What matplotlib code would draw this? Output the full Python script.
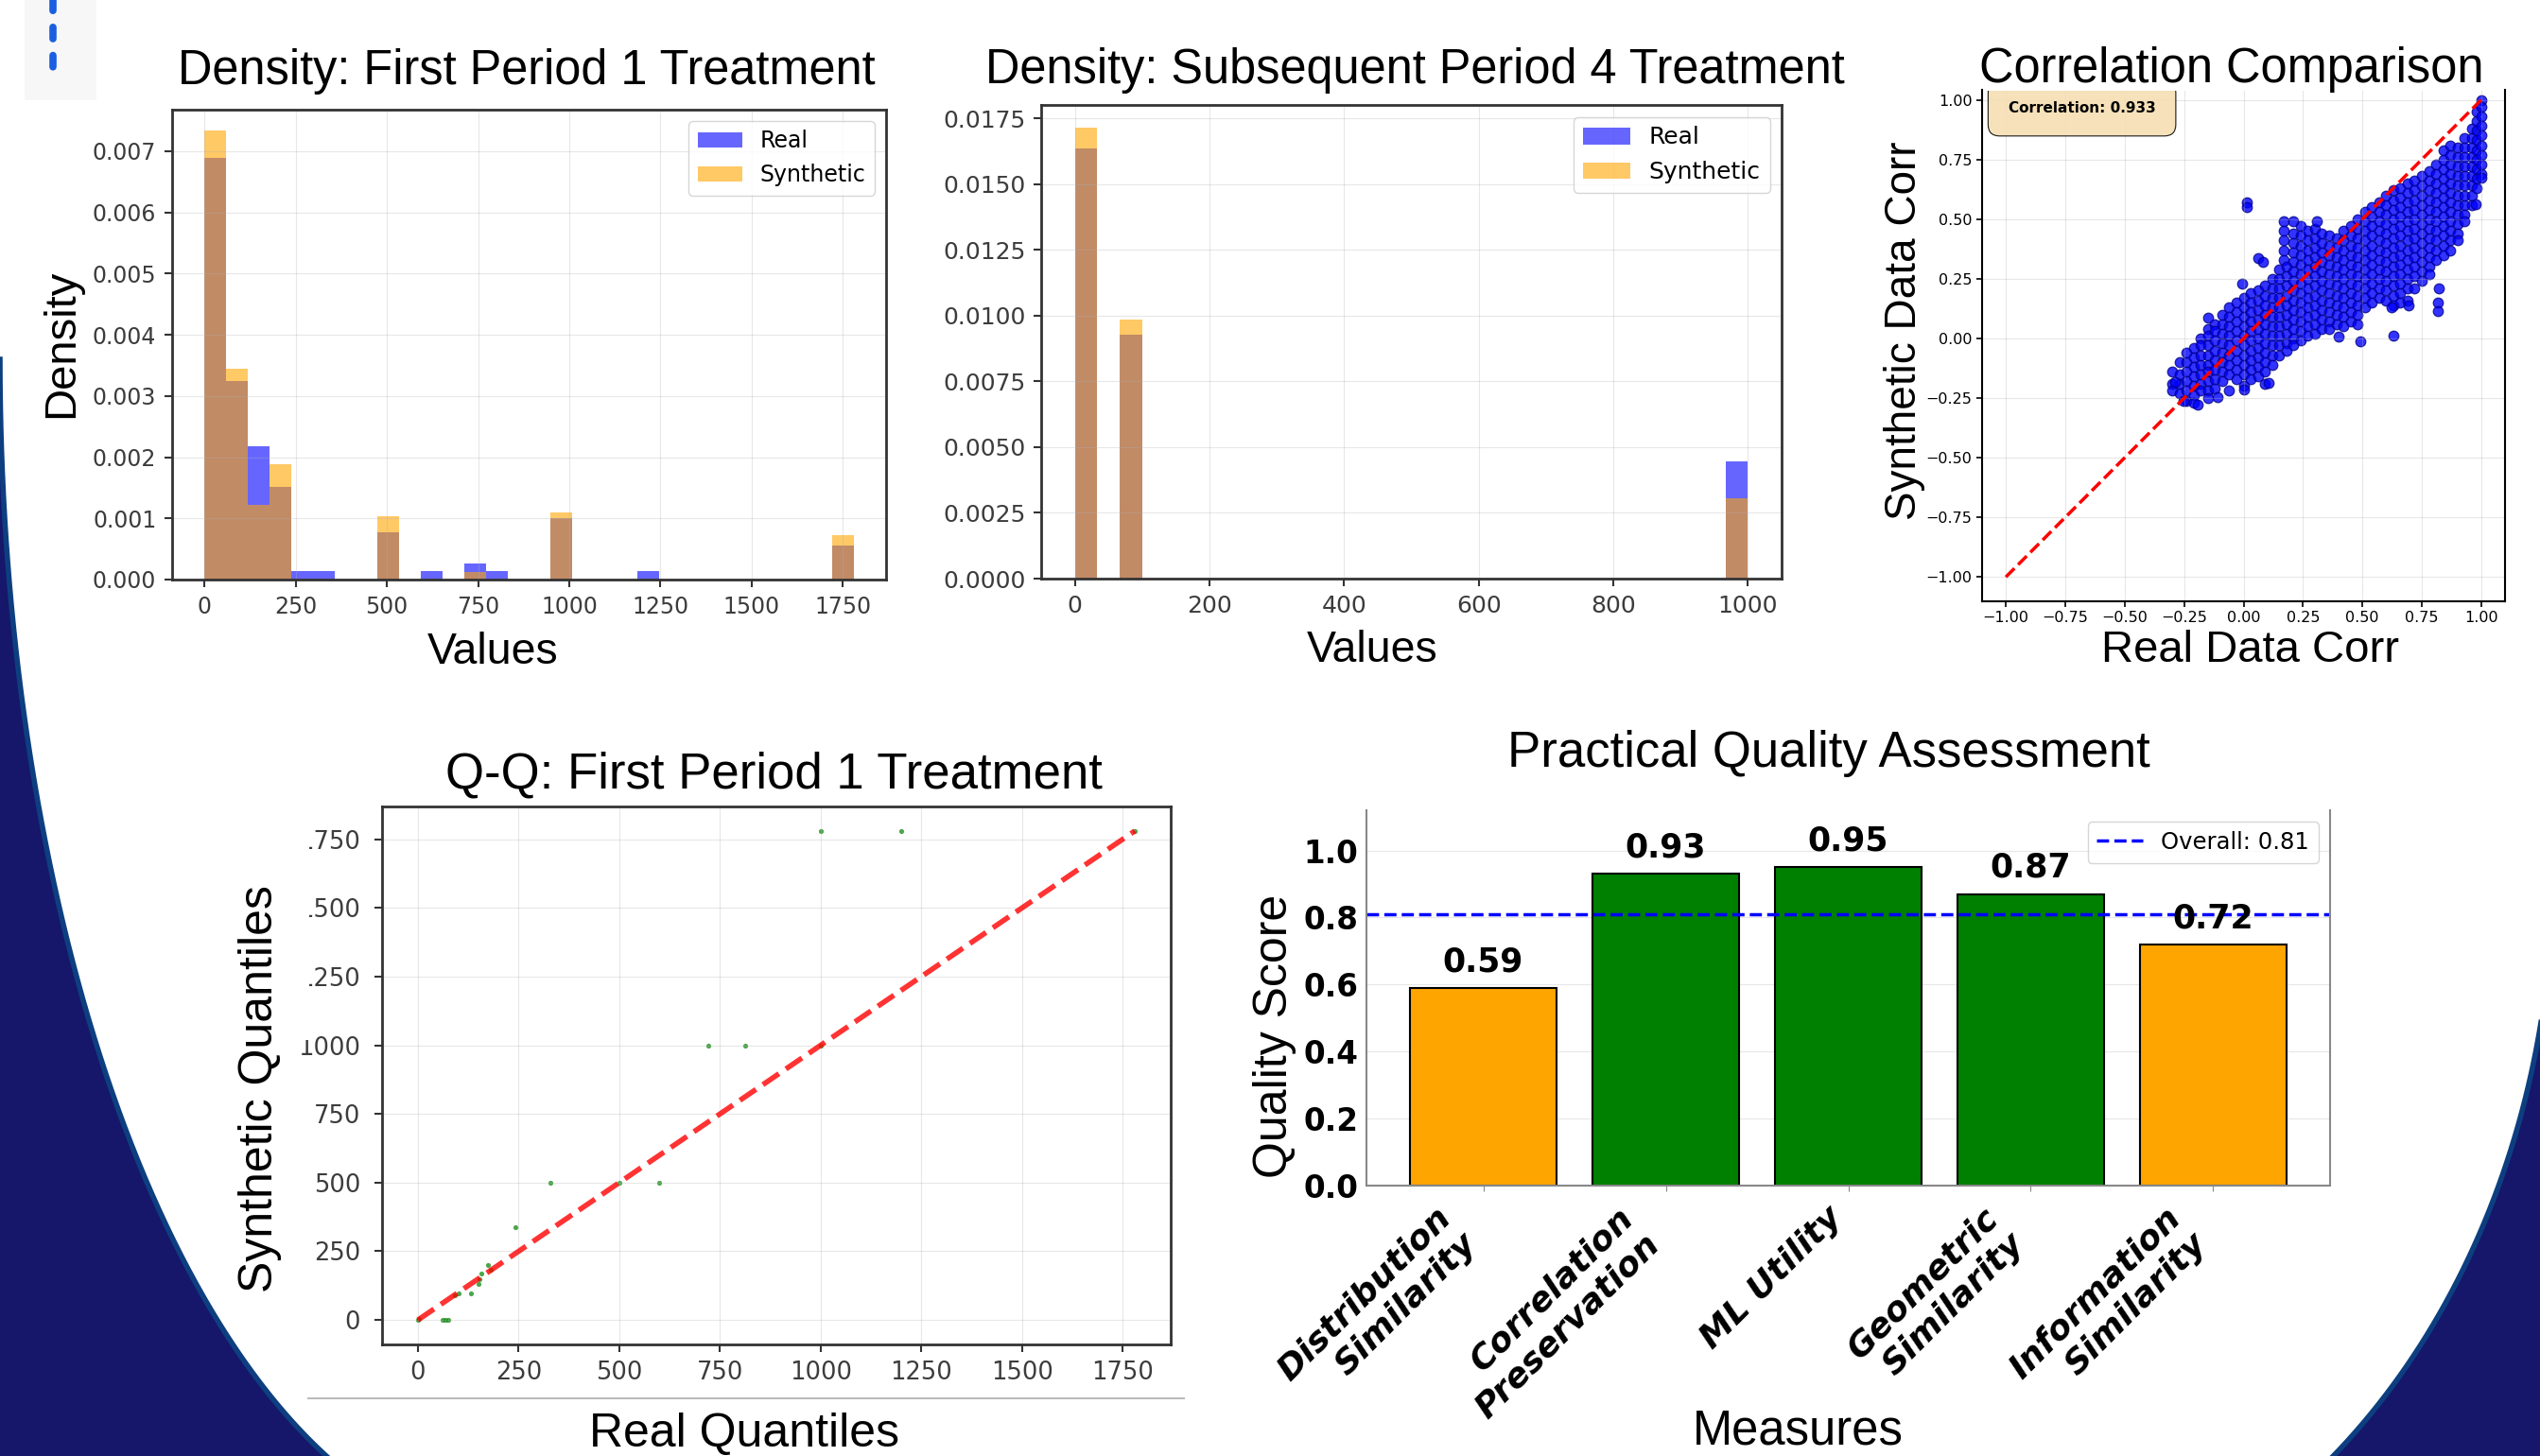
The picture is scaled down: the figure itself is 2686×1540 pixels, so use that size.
import numpy as np
import matplotlib
matplotlib.use("Agg")
import matplotlib.pyplot as plt
from matplotlib.patches import Polygon, Rectangle
from matplotlib.lines import Line2D

W, H = 2686, 1540
TITLE_FONT = ["Liberation Sans", "DejaVu Sans"]

# ============================================================
# Data
# ============================================================

# Density: First Period 1 Treatment (30 bins over 0..1780)
d1_max = 1780
d1_real = [0.00689, 0.00324, 0.00218, 0.00152, 0.000135, 0.000135, 0, 0,
           0.00078, 0, 0.000135, 0, 0.00026, 0.000135, 0, 0,
           0.00101, 0, 0, 0, 0.000135, 0, 0, 0, 0, 0, 0, 0, 0, 0.00055]
d1_synth = [0.00734, 0.00344, 0.00122, 0.00189, 0, 0, 0, 0,
            0.00103, 0, 0, 0, 0.00012, 0, 0, 0,
            0.00110, 0, 0, 0, 0, 0, 0, 0, 0, 0, 0, 0, 0, 0.00072]

# Density: Subsequent Period 4 Treatment (30 bins over 0..1000)
d2_max = 1000
d2_real = [0.01637, 0, 0.00928] + [0] * 26 + [0.00446]
d2_synth = [0.01716, 0, 0.00986] + [0] * 26 + [0.00306]

# Correlation comparison: (real corr, [synthetic corr ...]) read column by column
corr_cols = [
    (-0.30, [-0.14, -0.19, -0.22]),
    (-0.27, [-0.10, -0.15, -0.19, -0.23]),
    (-0.24, [-0.06, -0.10, -0.14, -0.18, -0.22, -0.26]),
    (-0.21, [-0.04, -0.08, -0.12, -0.16, -0.20, -0.24, -0.27]),
    (-0.18, [0.00, -0.03, -0.07, -0.11, -0.15, -0.19, -0.22]),
    (-0.15, [0.04, 0.01, -0.03, -0.07, -0.11, -0.14, -0.18, -0.22, -0.25]),
    (-0.12, [0.06, 0.03, -0.01, -0.05, -0.09, -0.13, -0.17, -0.21]),
    (-0.09, [0.10, 0.06, 0.02, -0.02, -0.06, -0.10, -0.14, -0.18]),
    (-0.06, [0.13, 0.09, 0.05, 0.01, -0.03, -0.07, -0.11, -0.15, -0.22]),
    (-0.03, [0.15, 0.11, 0.07, 0.03, -0.01, -0.05, -0.09, -0.13, -0.17]),
    (0.00, [0.17, 0.13, 0.09, 0.05, 0.01, -0.03, -0.07, -0.11, -0.15, -0.20]),
    (0.03, [0.19, 0.15, 0.11, 0.07, 0.03, -0.01, -0.05, -0.09, -0.13, -0.17]),
    (0.06, [0.20, 0.16, 0.12, 0.08, 0.04, 0.00, -0.04, -0.08, -0.12, -0.16]),
    (0.09, [0.22, 0.18, 0.14, 0.10, 0.06, 0.02, -0.02, -0.06, -0.10, -0.14, -0.19]),
    (0.12, [0.25, 0.21, 0.17, 0.13, 0.09, 0.05, 0.01, -0.03, -0.07, -0.11]),
    (0.15, [0.29, 0.25, 0.21, 0.17, 0.13, 0.09, 0.05, 0.01, -0.03, -0.07]),
    (0.17, [0.49, 0.45, 0.41, 0.37, 0.33]),
    (0.18, [0.30, 0.26, 0.22, 0.18, 0.14, 0.10, 0.06, 0.02, -0.02, -0.05]),
    (0.21, [0.44, 0.40, 0.36, 0.32, 0.28, 0.24, 0.20, 0.16, 0.12, 0.08, 0.04, 0.00, -0.03]),
    (0.24, [0.47, 0.43, 0.39, 0.35, 0.31, 0.27, 0.23, 0.19, 0.15, 0.11, 0.07, 0.03, -0.01]),
    (0.27, [0.45, 0.41, 0.37, 0.33, 0.29, 0.25, 0.21, 0.17, 0.13, 0.09, 0.05, 0.01]),
    (0.30, [0.46, 0.42, 0.38, 0.34, 0.30, 0.26, 0.22, 0.18, 0.14, 0.10, 0.06, 0.02]),
    (0.33, [0.44, 0.40, 0.36, 0.32, 0.28, 0.24, 0.20, 0.16, 0.12, 0.08, 0.04]),
    (0.36, [0.43, 0.39, 0.35, 0.31, 0.27, 0.23, 0.19, 0.15, 0.11, 0.07, 0.04]),
    (0.39, [0.42, 0.38, 0.34, 0.30, 0.26, 0.22, 0.18, 0.14, 0.10, 0.06]),
    (0.42, [0.45, 0.41, 0.37, 0.33, 0.29, 0.25, 0.21, 0.17, 0.13, 0.09, 0.05]),
    (0.45, [0.47, 0.43, 0.39, 0.35, 0.31, 0.27, 0.23, 0.19, 0.15, 0.11, 0.07]),
    (0.48, [0.50, 0.46, 0.42, 0.38, 0.34, 0.30, 0.26, 0.22, 0.18, 0.14, 0.10, 0.06]),
    (0.51, [0.53, 0.49, 0.45, 0.41, 0.37, 0.33, 0.29, 0.25, 0.21, 0.17, 0.13]),
    (0.54, [0.55, 0.51, 0.47, 0.43, 0.39, 0.35, 0.31, 0.27, 0.23, 0.19, 0.15]),
    (0.57, [0.57, 0.53, 0.49, 0.45, 0.41, 0.37, 0.33, 0.29, 0.25, 0.21, 0.17]),
    (0.60, [0.60, 0.56, 0.52, 0.48, 0.44, 0.40, 0.36, 0.32, 0.28, 0.24, 0.20, 0.16]),
    (0.63, [0.62, 0.58, 0.54, 0.50, 0.46, 0.42, 0.38, 0.34, 0.30, 0.26, 0.22, 0.18, 0.14]),
    (0.66, [0.63, 0.59, 0.55, 0.51, 0.47, 0.43, 0.39, 0.35, 0.31, 0.27, 0.23, 0.19, 0.15]),
    (0.69, [0.65, 0.61, 0.57, 0.53, 0.49, 0.45, 0.41, 0.37, 0.33, 0.29, 0.25, 0.21, 0.16]),
    (0.72, [0.66, 0.62, 0.58, 0.54, 0.50, 0.46, 0.42, 0.38, 0.34, 0.30, 0.26, 0.21]),
    (0.75, [0.68, 0.64, 0.60, 0.56, 0.52, 0.48, 0.44, 0.40, 0.36, 0.32, 0.28, 0.24]),
    (0.78, [0.70, 0.66, 0.62, 0.58, 0.54, 0.50, 0.46, 0.42, 0.38, 0.34, 0.30, 0.27]),
    (0.81, [0.73, 0.69, 0.65, 0.61, 0.57, 0.53, 0.49, 0.45, 0.41, 0.37, 0.33]),
    (0.84, [0.79, 0.75, 0.71, 0.67, 0.63, 0.59, 0.55, 0.51, 0.47, 0.43, 0.39, 0.35]),
    (0.87, [0.81, 0.77, 0.73, 0.69, 0.65, 0.61, 0.57, 0.53, 0.49, 0.45, 0.41, 0.37]),
    (0.90, [0.80, 0.76, 0.72, 0.68, 0.64, 0.60, 0.56, 0.52, 0.48, 0.44, 0.41]),
    (0.93, [0.84, 0.80, 0.76, 0.72, 0.68, 0.64, 0.60, 0.56, 0.52, 0.49]),
    (0.96, [0.88, 0.84, 0.80, 0.76, 0.72, 0.68, 0.64, 0.60, 0.56]),
    (0.98, [0.95, 0.91, 0.87, 0.83, 0.79, 0.75, 0.71, 0.67, 0.63]),
    (1.00, [1.00, 0.97, 0.93, 0.89, 0.85, 0.81, 0.77, 0.73, 0.69]),
]
corr_out_x = [0.013, 0.013, 0.063, 0.083, -0.005, -0.151, 0.632, 0.493, 0.401, 0.817,
              0.817, 0.82, 1.0, 0.976, 0.623, 0.694, 0.31, 0.21, -0.287, -0.254,
              -0.194, 0.107, 0.0, -0.11]
corr_out_y = [0.569, 0.550, 0.335, 0.32, 0.231, 0.086, 0.011, -0.012, 0.008, 0.149,
              0.116, 0.209, 0.672, 0.562, 0.132, 0.139, 0.49, 0.49, -0.181, -0.261,
              -0.276, -0.188, -0.215, -0.245]
corr_value = 0.933

# Q-Q: First Period 1 Treatment
qq_real = [0, 2, 61, 68, 75, 92, 100, 132, 150, 153, 158, 175, 180, 242,
           330, 500, 600, 720, 813, 1000, 1000, 1200, 1780]
qq_synth = [0, 4, 0, 0, 0, 90, 98, 98, 130, 147, 170, 201, 184, 336,
            500, 500, 500, 1000, 1000, 1000, 1780, 1780, 1780]
qq_max = 1780

# Practical quality assessment
measures = ["Distribution\nSimilarity", "Correlation\nPreservation", "ML Utility",
            "Geometric\nSimilarity", "Information\nSimilarity"]
scores = [0.59, 0.93, 0.95, 0.87, 0.72]
overall = 0.81

# ============================================================
# Figure + slide background
# ============================================================
fig = plt.figure(figsize=(W / 100, H / 100), dpi=100)
fig.patch.set_facecolor("white")


def add_ax(l, t, r, b):
    return fig.add_axes([l / W, 1 - b / H, (r - l) / W, (b - t) / H])


def ftext(x, y, s, **kw):
    return fig.text(x / W, 1 - y / H, s, **kw)


bg = fig.add_axes([0, 0, 1, 1], zorder=-5)
bg.set_xlim(0, W)
bg.set_ylim(H, 0)
bg.axis("off")

navy = "#16166a"
rim = "#0d3f80"
t = np.linspace(np.pi, np.pi - np.arcsin(0.99), 300)
lx = 550 + 550 * np.cos(t)
ly = 380 + 1250 * np.sin(t)
bg.add_patch(Polygon(np.column_stack([np.r_[lx, -20, -20], np.r_[ly, H + 20, 380]]),
                     closed=True, facecolor=navy, edgecolor="none"))
bg.plot(lx, ly, color=rim, lw=4)

t2 = np.linspace(0.12, 1.0, 300)
rx = 2068 + 632 * np.cos(t2)
ry = 920 + 800 * np.sin(t2)
bg.add_patch(Polygon(np.column_stack([np.r_[rx, W + 20, W + 20], np.r_[ry, H + 20, ry[0]]]),
                     closed=True, facecolor=navy, edgecolor="none"))
bg.plot(rx, ry, color=rim, lw=4)

bg.add_patch(Rectangle((26, 0), 76, 106, facecolor="#f7f7f7", edgecolor="none"))
bg.plot([56, 56], [-10, 80], color="#1a5fe0", lw=5.5, dashes=(1.6, 2.3),
        dash_capstyle="round")


def style_img(ax, size, pad=6):
    ax.tick_params(labelsize=size, labelcolor="#3c3c3c", color="#333333",
                   length=6, width=1.5, pad=pad)
    for sp in ax.spines.values():
        sp.set_color("#333333")
        sp.set_linewidth(2)
    ax.grid(True, alpha=0.3)


# ============================================================
# 1. Density: First Period 1 Treatment
# ============================================================
ax1 = add_ax(182, 116, 937, 613)
e1 = np.linspace(0, d1_max, len(d1_real) + 1)
w1 = e1[1] - e1[0]
ax1.bar(e1[:-1], d1_real, width=w1, align="edge", color="blue", alpha=0.6,
        linewidth=0, label="Real")
ax1.bar(e1[:-1], d1_synth, width=w1, align="edge", color="orange", alpha=0.6,
        linewidth=0, label="Synthetic")
ax1.set_xlim(-0.05 * d1_max, 1.05 * d1_max)
ax1.set_ylim(0, max(d1_synth) * 1.046)
ax1.set_xticks(np.arange(0, 1751, 250))
ax1.set_yticks(np.arange(0, 0.0071, 0.001))
ax1.set_yticklabels([f"{v:.3f}" for v in np.arange(0, 0.0071, 0.001)])
style_img(ax1, 17)
ax1.legend(loc="upper right", fontsize=17)
ftext(557, 89, "Density: First Period 1 Treatment", ha="center", va="baseline",
      fontsize=36.4, family=TITLE_FONT)
ftext(521, 702, "Values", ha="center", va="baseline", fontsize=33.5, family=TITLE_FONT)
ftext(65, 363, "Density", ha="center", va="center", rotation=90, fontsize=34,
      family=TITLE_FONT)

# ============================================================
# 2. Density: Subsequent Period 4 Treatment
# ============================================================
ax2 = add_ax(1101, 111, 1884, 612)
e2 = np.linspace(0, d2_max, len(d2_real) + 1)
w2 = e2[1] - e2[0]
ax2.bar(e2[:-1], d2_real, width=w2, align="edge", color="blue", alpha=0.6,
        linewidth=0, label="Real")
ax2.bar(e2[:-1], d2_synth, width=w2, align="edge", color="orange", alpha=0.6,
        linewidth=0, label="Synthetic")
ax2.set_xlim(-0.05 * d2_max, 1.05 * d2_max)
ax2.set_ylim(0, max(d2_synth) * 1.05)
ax2.set_xticks(np.arange(0, 1001, 200))
yt2 = np.arange(0, 0.0176, 0.0025)
ax2.set_yticks(yt2)
ax2.set_yticklabels([f"{v:.4f}" for v in yt2])
style_img(ax2, 18)
ax2.legend(loc="upper right", fontsize=18)
ftext(1496, 88, "Density: Subsequent Period 4 Treatment", ha="center", va="baseline",
      fontsize=36.4, family=TITLE_FONT)
ftext(1451, 700, "Values", ha="center", va="baseline", fontsize=33.5, family=TITLE_FONT)

# ============================================================
# 3. Correlation Comparison
# ============================================================
ax3 = add_ax(2096, 95.5, 2649, 635.5)
xs = [c[0] for c in corr_cols for _ in c[1]] + corr_out_x
ys = [y for c in corr_cols for y in c[1]] + corr_out_y
ax3.scatter(xs, ys, s=58, c="blue", alpha=0.8, edgecolors="darkblue", linewidths=0.9)
ax3.plot([-1, 1], [-1, 1], "r--", lw=2.5)
ax3.set_xlim(-1.1, 1.1)
ax3.set_ylim(-1.1, 1.04)
ticks3 = np.arange(-1, 1.01, 0.25)
ax3.set_xticks(ticks3)
ax3.set_yticks(ticks3)
ax3.tick_params(labelsize=11.5, length=4.5, width=1.2, pad=3)
ax3.grid(True, alpha=0.3)
ax3.spines["top"].set_visible(False)
for s in ["left", "right", "bottom"]:
    ax3.spines[s].set_linewidth(1.5)
ax3.text(0.191, 0.964, f"Correlation: {corr_value:.3f}", transform=ax3.transAxes,
         ha="center", va="center", fontsize=11, fontweight="bold", clip_on=True,
         bbox=dict(boxstyle="round,pad=1.4,rounding_size=0.8", facecolor="wheat",
                   alpha=0.9, edgecolor="black", linewidth=0.8))
ftext(2360, 87, "Correlation Comparison", ha="center", va="baseline", fontsize=36.4,
      family=TITLE_FONT)
ftext(2379, 700, "Real Data Corr", ha="center", va="baseline", fontsize=34,
      family=TITLE_FONT)
ftext(2014, 350, "Synthetic Data Corr", ha="center", va="center", rotation=90,
      fontsize=33, family=TITLE_FONT)

# ============================================================
# 4. Q-Q: First Period 1 Treatment
# ============================================================
ax4 = add_ax(404, 853, 1238, 1422)
ax4.scatter(qq_real, qq_synth, s=14, color="green", alpha=0.7, linewidths=0)
ax4.plot([0, qq_max], [0, qq_max], "r--", lw=4, alpha=0.8)
ax4.set_xlim(-0.05 * qq_max, 1.05 * qq_max)
ax4.set_ylim(-0.05 * qq_max, 1.05 * qq_max)
ax4.set_xticks(np.arange(0, 1751, 250))
ax4.set_yticks(np.arange(0, 1751, 250))
style_img(ax4, 18.5)
ax4.tick_params(axis="y", pad=10.5)
ftext(818, 833, "Q-Q: First Period 1 Treatment", ha="center", va="baseline",
      fontsize=38, family=TITLE_FONT)
ftext(787, 1530, "Real Quantiles", ha="center", va="baseline", fontsize=36,
      family=TITLE_FONT)
ftext(275, 1152, "Synthetic Quantiles", ha="center", va="center", rotation=90,
      fontsize=36, family=TITLE_FONT)
# the pasted image is cropped just left of the y tick labels
fig.add_artist(Rectangle((298 / W, 1 - 1100 / H), 29 / W, 245 / H,
                         transform=fig.transFigure, facecolor="white",
                         edgecolor="none", zorder=10))
fig.add_artist(Line2D([326 / W, 1252 / W], [1 - 1479 / H, 1 - 1479 / H],
                      color="#bbbbbb", lw=1.5))

# ============================================================
# 5. Practical Quality Assessment
# ============================================================
ax5 = add_ax(1445, 857, 2464, 1254)
xpos = np.arange(len(measures))
colors = ["green" if s >= 0.8 else "orange" for s in scores]
ax5.bar(xpos, scores, width=0.8, color=colors, edgecolor="black", linewidth=1.5)
ax5.axhline(overall, color="blue", linestyle="--", lw=2.5, label=f"Overall: {overall:.2f}")
for i, s in enumerate(scores):
    ax5.text(i, s + 0.03, f"{s:.2f}", ha="center", va="bottom", fontsize=25,
             fontweight="bold")
ax5.set_ylim(0, 1.12)
ax5.set_xlim(-0.64, len(measures) - 0.36)
yt5 = np.arange(0, 1.01, 0.2)
ax5.set_yticks(yt5)
ax5.set_yticklabels([f"{v:.1f}" for v in yt5], fontsize=23.5, fontweight="bold")
ax5.set_xticks(xpos)
ax5.set_xticklabels(measures, rotation=45, ha="right", fontsize=26,
                    fontweight="bold", style="italic")
ax5.tick_params(axis="y", length=0, pad=6)
ax5.tick_params(axis="x", length=4, color="#888888", pad=8)
ax5.grid(True, axis="y", alpha=0.3)
ax5.set_axisbelow(True)
ax5.spines["top"].set_visible(False)
for s in ["left", "right", "bottom"]:
    ax5.spines[s].set_color("#888888")
    ax5.spines[s].set_linewidth(1.5)
ax5.legend(loc="upper right", fontsize=17.5)
ftext(1934, 811, "Practical Quality Assessment", ha="center", va="baseline",
      fontsize=38, family=TITLE_FONT)
ftext(1901, 1528, "Measures", ha="center", va="baseline", fontsize=36.5,
      family=TITLE_FONT)
ftext(1348, 1096, "Quality Score", ha="center", va="center", rotation=90,
      fontsize=36, family=TITLE_FONT)

fig.savefig("out.png", dpi=100)
